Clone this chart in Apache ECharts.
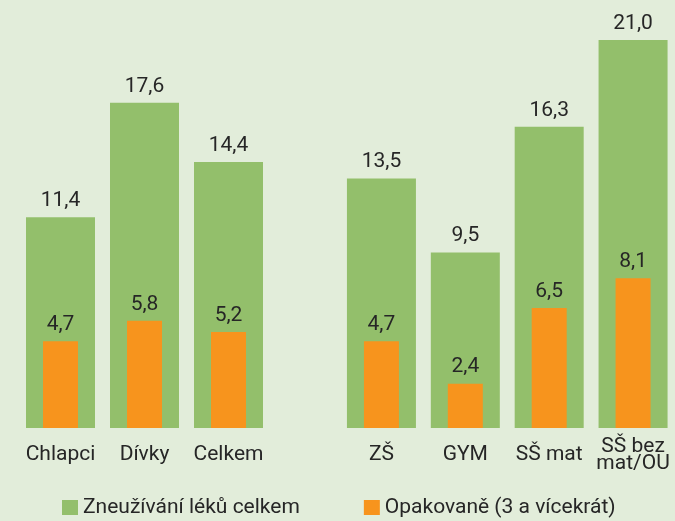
<!DOCTYPE html>
<html>
<head>
<meta charset="utf-8">
<script src="https://cdn.jsdelivr.net/npm/echarts@6/dist/echarts.min.js"></script>
<style>
  html, body { margin: 0; padding: 0; background: #e2edda; }
  #chart { width: 675px; height: 521px; }
</style>
</head>
<body>
<div id="chart"></div>
<script>
// skupiny vlevo / vpravo
var categoriesLeft = ['Chlapci', 'Dívky', 'Celkem'];
var categoriesRight = ['ZŠ', 'GYM', 'SŠ mat', 'SŠ bez\nmat/OU'];
var totalLeft = [11.4, 17.6, 14.4];
var totalRight = [13.5, 9.5, 16.3, 21.0];
var repeatLeft = [4.7, 5.8, 5.2];
var repeatRight = [4.7, 2.4, 6.5, 8.1];
var seriesNames = ['Zneužívání léků celkem', 'Opakovaně (3 a vícekrát)'];

var green = '#93bf6b';
var orange = '#f7941d';
var textColor = '#262626';
var font = 'Roboto';

var chart = echarts.init(document.getElementById('chart'));

function fmt(p) {
  return p.value.toFixed(1).replace('.', ',');
}

function catAxis(grid, data, show) {
  return {
    type: 'category',
    gridIndex: grid,
    data: data,
    show: show,
    axisLine: { show: false },
    axisTick: { show: false },
    axisLabel: {
      show: show,
      interval: 0,
      color: textColor,
      fontFamily: font,
      fontSize: 21,
      lineHeight: 17,
      verticalAlign: 'middle',
      margin: 27
    }
  };
}

function valAxis(grid) {
  return { type: 'value', gridIndex: grid, min: 0, max: 21, show: false, splitLine: { show: false } };
}

function bar(name, data, xi, yi, color, width) {
  return {
    name: name,
    type: 'bar',
    xAxisIndex: xi,
    yAxisIndex: yi,
    data: data,
    barWidth: width,
    itemStyle: { color: color },
    label: {
      show: true,
      position: 'top',
      distance: 6,
      formatter: fmt,
      color: textColor,
      fontFamily: font,
      fontSize: 21
    }
  };
}

var option = {
  backgroundColor: '#e2edda',
  animation: false,
  grid: [
    { left: 18.5, width: 252, top: 40, bottom: 93 },
    { left: 339.5, width: 336, top: 40, bottom: 93 }
  ],
  xAxis: [
    catAxis(0, categoriesLeft, true),
    catAxis(0, categoriesLeft, false),
    catAxis(1, categoriesRight, true),
    catAxis(1, categoriesRight, false)
  ],
  yAxis: [valAxis(0), valAxis(1)],
  legend: {
    data: seriesNames,
    left: 62,
    bottom: 3,
    padding: 0,
    icon: 'rect',
    itemWidth: 16,
    itemHeight: 15,
    itemGap: 64,
    textStyle: { color: textColor, fontFamily: font, fontSize: 21 }
  },
  series: [
    bar(seriesNames[0], totalLeft, 0, 0, green, 69),
    bar(seriesNames[1], repeatLeft, 1, 0, orange, 35),
    bar(seriesNames[0], totalRight, 2, 1, green, 69),
    bar(seriesNames[1], repeatRight, 3, 1, orange, 35)
  ]
};

chart.setOption(option);
</script>
</body>
</html>
